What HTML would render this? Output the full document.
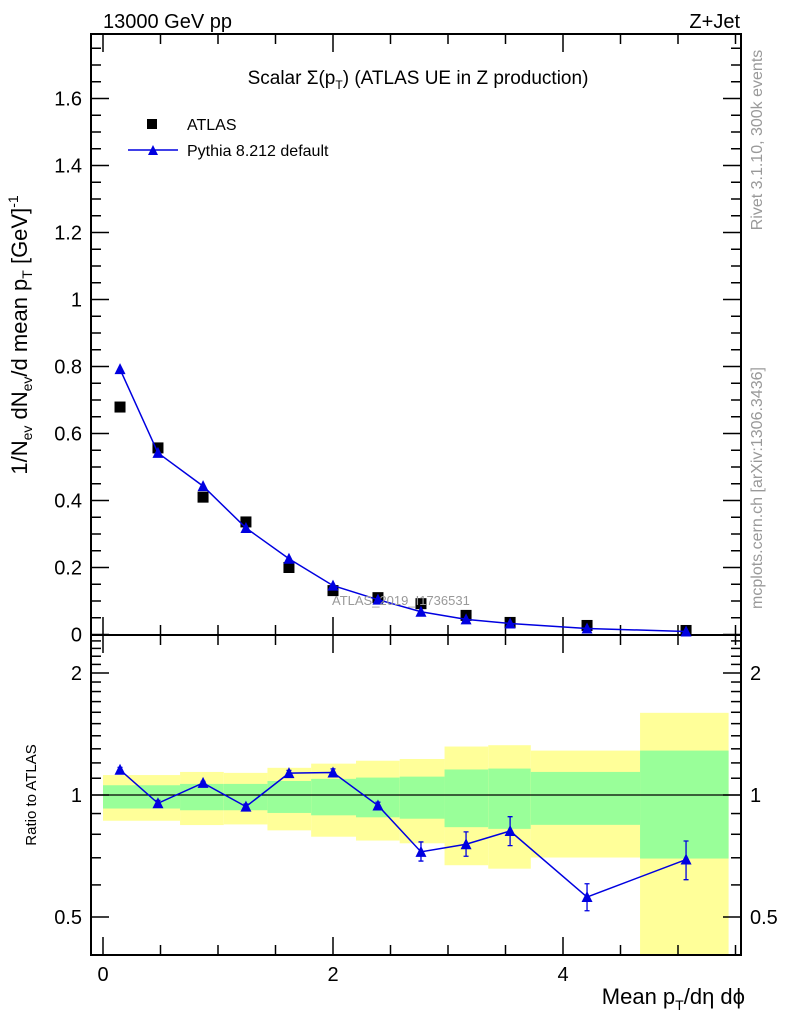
<!DOCTYPE html>
<html><head><meta charset="utf-8"><style>
html,body{margin:0;padding:0;background:#fff}
svg{display:block;font-family:"Liberation Sans",sans-serif}
</style></head><body>
<svg id="chart" width="786" height="1024" viewBox="0 0 786 1024" xmlns="http://www.w3.org/2000/svg">
<g id="bands"></g>
<g id="axes"></g>
<g id="series"></g>
<text x="103" y="28" font-size="20">13000 GeV pp</text>
<text x="740" y="28" font-size="20" text-anchor="end">Z+Jet</text>
<text x="418" y="84" font-size="19" text-anchor="middle">Scalar Σ(p<tspan font-size="12" dy="5">T</tspan><tspan dy="-5">) (ATLAS UE in Z production)</tspan></text>
<g>
<rect x="147" y="119" width="10" height="10" fill="#000"/>
<text x="187" y="130" font-size="16">ATLAS</text>
<line x1="128" y1="150" x2="178" y2="150" stroke="#0000e0" stroke-width="1.5"/>
<path d="M148,155 L153,145 L158,155 Z" fill="#0000e0"/>
<text x="187" y="156" font-size="16">Pythia 8.212 default</text>
</g>
<text x="332" y="605" font-size="13" fill="#999">ATLAS_2019_I1736531</text>
<text transform="translate(762,140) rotate(-90)" font-size="16" fill="#999" text-anchor="middle">Rivet 3.1.10,  300k events</text>
<text transform="translate(762,488) rotate(-90)" font-size="16" fill="#999" text-anchor="middle">mcplots.cern.ch [arXiv:1306.3436]</text>
<text transform="translate(27,335) rotate(-90)" font-size="22" text-anchor="middle">1/N<tspan font-size="14" dy="5">ev</tspan><tspan dy="-5"> dN</tspan><tspan font-size="14" dy="5">ev</tspan><tspan dy="-5">/d mean p</tspan><tspan font-size="14" dy="5">T</tspan><tspan dy="-5">  [GeV]</tspan><tspan font-size="14" dy="-9">-1</tspan></text>
<text transform="translate(36,795) rotate(-90)" font-size="15" text-anchor="middle">Ratio to ATLAS</text>
<text x="745" y="1004" font-size="22" text-anchor="end">Mean p<tspan font-size="14" dy="6">T</tspan><tspan dy="-6">/dη dϕ</tspan></text>
</svg>
<script>
const xCenters=[0.148,0.478,0.87,1.243,1.617,2.0,2.391,2.765,3.157,3.54,4.209,5.07];
const atlasVals=[0.679,0.557,0.41,0.336,0.20,0.131,0.110,0.092,0.057,0.036,0.027,0.012];
const mcVals=[0.792,0.542,0.443,0.318,0.226,0.146,0.104,0.068,0.045,0.033,0.018,0.009];
const ratioVals=[1.154,0.954,1.071,0.936,1.132,1.136,0.942,0.724,0.756,0.815,0.56,0.693];
const ratioLo=[1.14,0.94,1.06,0.92,1.11,1.11,0.92,0.687,0.706,0.75,0.518,0.618];
const ratioHi=[1.17,0.97,1.08,0.95,1.15,1.16,0.96,0.766,0.811,0.884,0.604,0.77];
const binEdges=[0,0.67,1.05,1.43,1.81,2.2,2.58,2.97,3.35,3.72,4.67,5.44];
const yellowHi=[1.12,1.14,1.134,1.167,1.195,1.215,1.227,1.317,1.327,1.287,1.595];
const greenHi=[1.057,1.065,1.065,1.083,1.096,1.104,1.11,1.156,1.162,1.14,1.287];
const greenLo=[0.926,0.917,0.917,0.903,0.891,0.881,0.874,0.833,0.825,0.844,0.697];
const yellowLo=[0.864,0.843,0.846,0.818,0.789,0.772,0.76,0.671,0.658,0.701,0.3];
const yTicks=[0,0.2,0.4,0.6,0.8,1,1.2,1.4,1.6];
const yTickLabels=["0","0.2","0.4","0.6","0.8","1","1.2","1.4","1.6"];
const xTicks=[0,2,4];
const xTickLabels=["0","2","4"];
const rTicks=[0.5,1,2];
const rTickLabels=["0.5","1","2"];

const L=91,R=741,T=34,M=635,B=955;
const X=v=>103+v*115;
const Y=v=>634.5-v*335;
const YR=r=>Math.min(B,Math.max(M,795-Math.log2(r)*122));
const NS="http://www.w3.org/2000/svg";
function mk(tag,attrs,parent){const e=document.createElementNS(NS,tag);for(const k in attrs)e.setAttribute(k,attrs[k]);parent.appendChild(e);return e;}
const bands=document.getElementById('bands'),axes=document.getElementById('axes'),ser=document.getElementById('series');

for(let i=0;i<yellowHi.length;i++){
  const x1=X(binEdges[i]),x2=X(binEdges[i+1]);
  let e=mk('rect',{x:x1,y:YR(yellowHi[i]),width:x2-x1,height:YR(yellowLo[i])-YR(yellowHi[i]),fill:'#ffff99'},bands);
  
  
  e=mk('rect',{x:x1,y:YR(greenHi[i]),width:x2-x1,height:YR(greenLo[i])-YR(greenHi[i]),fill:'#99ff99'},bands);
  
  
}
let e=mk('line',{x1:L,x2:R,y1:YR(1),y2:YR(1),stroke:'#000','stroke-width':1.2},axes);



for(const [y1,y2,n] of [[T,M,'main-frame'],[M,B,'ratio-frame']]){
  e=mk('rect',{x:L,y:y1,width:R-L,height:y2-y1,fill:'none',stroke:'#000','stroke-width':2},axes);
  
  
}
for(let v=0;v<=5.5;v+=0.5){
  const maj=Math.abs(v-Math.round(v/2)*2)<1e-6;const len=maj?18:10;const x=X(v);
  for(const [y,d] of [[T,1],[M,-1],[M,1],[B,-1]]){
    e=mk('line',{x1:x,x2:x,y1:y,y2:y+d*len,stroke:'#000','stroke-width':1.5},axes);
    
    
  }
}
xTicks.forEach((v,i)=>{e=mk('text',{x:X(v),y:981,'font-size':20,'text-anchor':'middle'},axes);e.textContent=xTickLabels[i];

});
for(let k=0;k<=35;k++){const v=k*0.05;const y=Y(v);if(y<T)break;const maj=k%4==0;const len=maj?18:10;
  for(const [x,d] of [[L,1],[R,-1]]){e=mk('line',{x1:x,x2:x+d*len,y1:y,y2:y,stroke:'#000','stroke-width':1.5},axes);
  
  }}
yTicks.forEach((v,i)=>{e=mk('text',{x:82,y:Y(v)+7,'font-size':20,'text-anchor':'end'},axes);e.textContent=yTickLabels[i];

});
for(let k=4;k<=24;k++){const r=k/10;const y=YR(r);if(y<=M||y>=B)continue;const maj=(k==5||k==10||k==20);const len=maj?18:10;
  for(const [x,d] of [[L,1],[R,-1]]){e=mk('line',{x1:x,x2:x+d*len,y1:y,y2:y,stroke:'#000','stroke-width':1.5},axes);
  
  }}
rTicks.forEach((v,i)=>{for(const [x,a] of [[82,'end'],[750,'start']]){e=mk('text',{x:x,y:YR(v)+7,'font-size':20,'text-anchor':a},axes);e.textContent=rTickLabels[i];

}});

atlasVals.forEach((v,i)=>{e=mk('rect',{x:X(xCenters[i])-5.5,y:Y(v)-5.5,width:11,height:11,fill:'#000'},ser);

});
e=mk('polyline',{points:mcVals.map((v,i)=>X(xCenters[i])+','+Y(v)).join(' '),fill:'none',stroke:'#0000e0','stroke-width':1.5},ser);


mcVals.forEach((v,i)=>{const x=X(xCenters[i]),y=Y(v);e=mk('path',{d:`M${x-5.5},${y+5} L${x},${y-6} L${x+5.5},${y+5} Z`,fill:'#0000e0'},ser);

});
e=mk('polyline',{points:ratioVals.map((v,i)=>X(xCenters[i])+','+YR(v)).join(' '),fill:'none',stroke:'#0000e0','stroke-width':1.5},ser);


ratioVals.forEach((v,i)=>{const x=X(xCenters[i]),y=YR(v);
  e=mk('path',{d:`M${x},${YR(ratioLo[i])} V${YR(ratioHi[i])} M${x-2.5},${YR(ratioLo[i])} h5 M${x-2.5},${YR(ratioHi[i])} h5`,stroke:'#0000e0','stroke-width':1.3,fill:'none'},ser);
  
  
  e=mk('path',{d:`M${x-5.5},${y+5} L${x},${y-6} L${x+5.5},${y+5} Z`,fill:'#0000e0'},ser);
  
  });
</script>
</body></html>
